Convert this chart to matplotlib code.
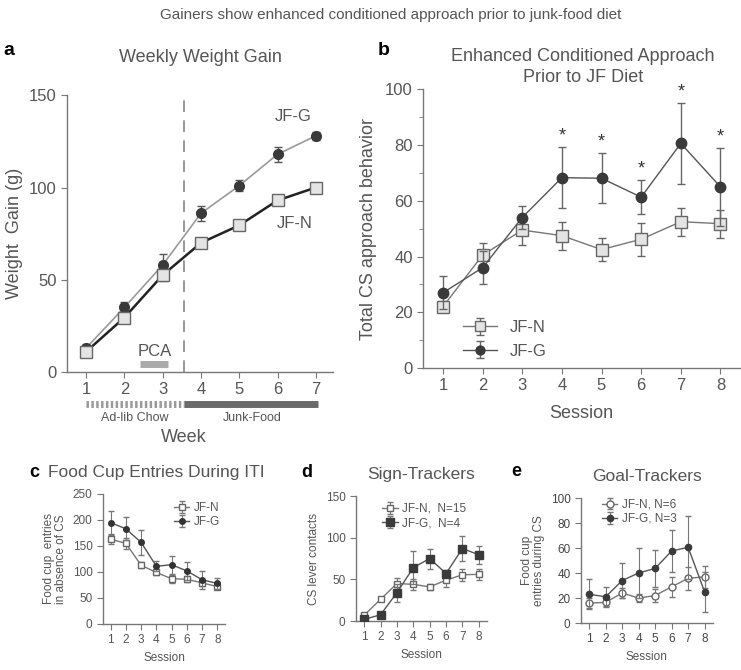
import matplotlib.pyplot as plt
from matplotlib.transforms import blended_transform_factory
import numpy as np

plt.rcParams['font.family'] = ['Liberation Sans', 'DejaVu Sans']

TXT = '#555555'
LN = '#666666'

# panel a - weekly weight gain
weeks = [1, 2, 3, 4, 5, 6, 7]
wg_jfg = [13, 35, 58, 86, 101, 118, 128]
wg_jfg_err = [2, 3, 6, 4, 3, 4, 2]
wg_jfn = [11, 29.5, 52.5, 70, 79.5, 93, 100]
wg_jfn_err = [2, 2, 3, 2, 2, 2, 2]

# panel b - conditioned approach
sessions = [1, 2, 3, 4, 5, 6, 7, 8]
ca_jfn = [22, 40.5, 49.5, 47.5, 42.5, 46.2, 52.5, 51.8]
ca_jfn_err = [2, 4.5, 5.5, 5, 4, 6, 5, 5]
ca_jfg = [27, 36, 54, 68.3, 68.1, 61.3, 80.6, 65]
ca_jfg_err = [6, 6, 4, 11, 9, 6, 14.5, 14]
stars_at = [4, 5, 6, 7, 8]

# panel c - food cup entries during ITI
iti_jfn = [163, 155, 113, 99, 87, 86, 79, 72]
iti_jfn_err = [9, 10, 6, 5, 8, 6, 6, 4]
iti_jfg = [195, 183, 157, 111, 114, 102, 85, 78]
iti_jfg_err = [22, 22, 24, 10, 17, 17, 17, 11]

# panel d - sign trackers
st_jfn = [7, 26, 45, 44, 41, 49, 55.5, 56]
st_jfn_err = [2, 2, 7, 7, 4, 8, 7, 7]
st_jfg = [2, 7.5, 34, 64, 75, 57, 87, 79.5]
st_jfg_err = [1, 2, 11, 20, 12, 4, 15, 11]

# panel e - goal trackers
gt_jfn = [16, 16.5, 24, 20, 22, 29, 35.7, 37]
gt_jfn_err = [4, 3, 4, 3, 5, 8, 9, 9]
gt_jfg = [23, 21, 34, 40, 43.7, 57.6, 60.6, 25]
gt_jfg_err = [12, 8, 14, 20, 15, 16.5, 25, 16]


def style(ax, fs):
    for s in ['top', 'right']:
        ax.spines[s].set_visible(False)
    for s in ['left', 'bottom']:
        ax.spines[s].set_color('#777777')
        ax.spines[s].set_linewidth(1)
    ax.tick_params(colors='#777777', labelcolor=TXT, labelsize=fs, direction='out', length=4)


fig = plt.figure(figsize=(7.41, 6.70), dpi=100)
fig.text(0.527, 0.978, 'Gainers show enhanced conditioned approach prior to junk-food diet',
         ha='center', va='center', fontsize=11, color=TXT)

# ---------- a ----------
ax = fig.add_axes([0.0904, 0.4448, 0.359, 0.413])
style(ax, 12)
ax.errorbar(weeks, wg_jfg, yerr=wg_jfg_err, color='#999999', lw=1.2, marker='o', ms=7,
            mfc='#3a3a3a', mec='#3a3a3a', ecolor='#555555', capsize=3, elinewidth=1, zorder=3)
ax.errorbar(weeks, wg_jfn, yerr=wg_jfn_err, color='#222222', lw=1.8, marker='s', ms=9,
            mfc='#e4e4e4', mec='#666666', ecolor='#555555', capsize=3, elinewidth=1, zorder=4)
ax.plot([3.55, 3.55], [0, 150], color='#888888', lw=1.2, dashes=(7, 5))
ax.plot([2.42, 3.15], [4.5, 4.5], color='#aaaaaa', lw=5, solid_capstyle='butt')
ax.text(2.78, 11, 'PCA', ha='center', va='center', fontsize=12, color=TXT)
ax.text(6.4, 138.5, 'JF-G', ha='center', va='center', fontsize=12, color=TXT)
ax.text(6.45, 80.5, 'JF-N', ha='center', va='center', fontsize=12, color=TXT)
ax.set_xlim(0.5, 7.45)
ax.set_ylim(0, 150)
ax.set_xticks(weeks)
ax.set_yticks([0, 50, 100, 150])
ax.set_ylabel('Weight  Gain (g)', fontsize=13, color=TXT, labelpad=4)
tr = blended_transform_factory(ax.transData, ax.transAxes)
ax.plot([1, 3.55], [-0.115, -0.115], transform=tr, clip_on=False, color='#999999', lw=5,
        dashes=(0.35, 0.35), solid_capstyle='butt', dash_capstyle='butt')
ax.plot([3.55, 7.05], [-0.115, -0.115], transform=tr, clip_on=False, color='#6a6a6a', lw=5,
        solid_capstyle='butt')
ax.text(2.27, -0.168, 'Ad-lib Chow', transform=tr, ha='center', va='center', fontsize=9, color=TXT)
ax.text(5.35, -0.168, 'Junk-Food', transform=tr, ha='center', va='center', fontsize=9, color=TXT)
ax.text(3.55, -0.235, 'Week', transform=tr, ha='center', va='center', fontsize=13, color=TXT)
ax.set_title('Weekly Weight Gain', fontsize=13, color=TXT, pad=24)
fig.text(0.005, 0.925, 'a', fontsize=14, fontweight='bold', va='center')

# ---------- b ----------
ax = fig.add_axes([0.571, 0.4507, 0.428, 0.416])
style(ax, 12)
ax.errorbar(sessions, ca_jfn, yerr=ca_jfn_err, color='#777777', lw=1, marker='s', ms=9,
            mfc='#e4e4e4', mec='#666666', ecolor='#666666', capsize=3, elinewidth=1, label='JF-N', zorder=3)
ax.errorbar(sessions, ca_jfg, yerr=ca_jfg_err, color='#555555', lw=1, marker='o', ms=7.5,
            mfc='#3a3a3a', mec='#3a3a3a', ecolor='#666666', capsize=3, elinewidth=1, label='JF-G', zorder=4)
for s in stars_at:
    i = sessions.index(s)
    ax.text(s, ca_jfg[i] + ca_jfg_err[i] + 4, '*', ha='center', va='center', fontsize=13, color='#333333')
ax.set_xlim(0.5, 8.5)
ax.set_ylim(0, 100)
ax.set_xticks(sessions)
ax.set_yticks([0, 20, 40, 60, 80, 100])
ax.set_yticks(np.arange(10, 100, 20), minor=True)
ax.tick_params(which='minor', colors='#777777', length=3)
ax.set_xlabel('Session', fontsize=13, color=TXT, labelpad=8)
ax.set_ylabel('Total CS approach behavior', fontsize=13, color=TXT, labelpad=6)
fig.text(0.787, 0.9164, 'Enhanced Conditioned Approach', ha='center', va='center',
         fontsize=13, color=TXT)
fig.text(0.787, 0.8836, 'Prior to JF Diet', ha='center', va='center', fontsize=13, color=TXT)
leg = ax.legend(loc='lower left', bbox_to_anchor=(0.08, -0.02), frameon=False, fontsize=12,
                handlelength=2.0, markerscale=0.85, labelcolor=TXT)
fig.text(0.51, 0.925, 'b', fontsize=14, fontweight='bold', va='center')

# ---------- c ----------
ax = fig.add_axes([0.139, 0.0687, 0.1646, 0.194])
style(ax, 8.5)
ax.errorbar(sessions, iti_jfn, yerr=iti_jfn_err, color='#777777', lw=1, marker='s', ms=5,
            mfc='white', mec='#666666', ecolor='#777777', capsize=2, elinewidth=0.8, label='JF-N', zorder=3)
ax.errorbar(sessions, iti_jfg, yerr=iti_jfg_err, color='#555555', lw=1, marker='o', ms=4,
            mfc='#333333', mec='#333333', ecolor='#777777', capsize=2, elinewidth=0.8, label='JF-G', zorder=4)
ax.set_xlim(0.5, 8.5)
ax.set_ylim(0, 250)
ax.set_xticks(sessions)
ax.set_yticks([0, 50, 100, 150, 200, 250])
ax.set_xlabel('Session', fontsize=8.5, color=TXT)
ax.set_ylabel('Food cup  entries\nin absence of CS', fontsize=8.5, color=TXT, linespacing=1.0)
ax.legend(loc='upper right', bbox_to_anchor=(1.05, 1.02), frameon=False, fontsize=8.5,
          handlelength=1.3, handletextpad=0.4, labelspacing=0.2, labelcolor=TXT)
fig.text(0.04, 0.295, 'c', fontsize=13, fontweight='bold', va='center')
fig.text(0.065, 0.295, 'Food Cup Entries During ITI', fontsize=12.5, color=TXT, va='center')

# ---------- d ----------
ax = fig.add_axes([0.4804, 0.0731, 0.1768, 0.1866])
style(ax, 8.5)
ax.errorbar(sessions, st_jfn, yerr=st_jfn_err, color='#777777', lw=1, marker='s', ms=5,
            mfc='white', mec='#666666', ecolor='#777777', capsize=2, elinewidth=0.8,
            label='JF-N,  N=15', zorder=3)
ax.errorbar(sessions, st_jfg, yerr=st_jfg_err, color='#555555', lw=1, marker='s', ms=5.5,
            mfc='#3a3a3a', mec='#3a3a3a', ecolor='#777777', capsize=2, elinewidth=0.8,
            label='JF-G,  N=4', zorder=4)
ax.set_xlim(0.5, 8.5)
ax.set_ylim(0, 150)
ax.set_xticks(sessions)
ax.set_yticks([0, 50, 100, 150])
ax.set_xlabel('Session', fontsize=8.5, color=TXT)
ax.set_ylabel('CS lever contacts', fontsize=8.5, color=TXT)
ax.legend(loc='upper left', bbox_to_anchor=(0.12, 1.03), frameon=False, fontsize=8.5,
          handlelength=1.3, handletextpad=0.4, labelspacing=0.2, labelcolor=TXT)
ax.set_title('Sign-Trackers', fontsize=12.5, color=TXT, pad=12)
fig.text(0.407, 0.295, 'd', fontsize=13, fontweight='bold', va='center')

# ---------- e ----------
ax = fig.add_axes([0.784, 0.0701, 0.178, 0.1866])
style(ax, 8.5)
ax.tick_params(labelcolor='#444444')
ax.errorbar(sessions, gt_jfn, yerr=gt_jfn_err, color='#777777', lw=1, marker='o', ms=5,
            mfc='white', mec='#666666', ecolor='#777777', capsize=2, elinewidth=0.8,
            label='JF-N, N=6', zorder=3)
ax.errorbar(sessions, gt_jfg, yerr=gt_jfg_err, color='#555555', lw=1, marker='o', ms=4.5,
            mfc='#3a3a3a', mec='#3a3a3a', ecolor='#777777', capsize=2, elinewidth=0.8,
            label='JF-G, N=3', zorder=4)
ax.set_xlim(0.5, 8.5)
ax.set_ylim(0, 100)
ax.set_xticks(sessions)
ax.set_yticks([0, 20, 40, 60, 80, 100])
ax.set_xlabel('Session', fontsize=8.5, color=TXT)
ax.set_ylabel('Food cup\nentries during CS', fontsize=8.5, color=TXT, linespacing=1.0)
ax.legend(loc='upper left', bbox_to_anchor=(0.08, 1.08), frameon=False, fontsize=8.5,
          handlelength=1.3, handletextpad=0.4, labelspacing=0.2, labelcolor=TXT)
ax.set_title('Goal-Trackers', fontsize=12.5, color=TXT, pad=12)
fig.text(0.69, 0.296, 'e', fontsize=13, fontweight='bold', va='center')

fig.savefig('out.png', dpi=100)
